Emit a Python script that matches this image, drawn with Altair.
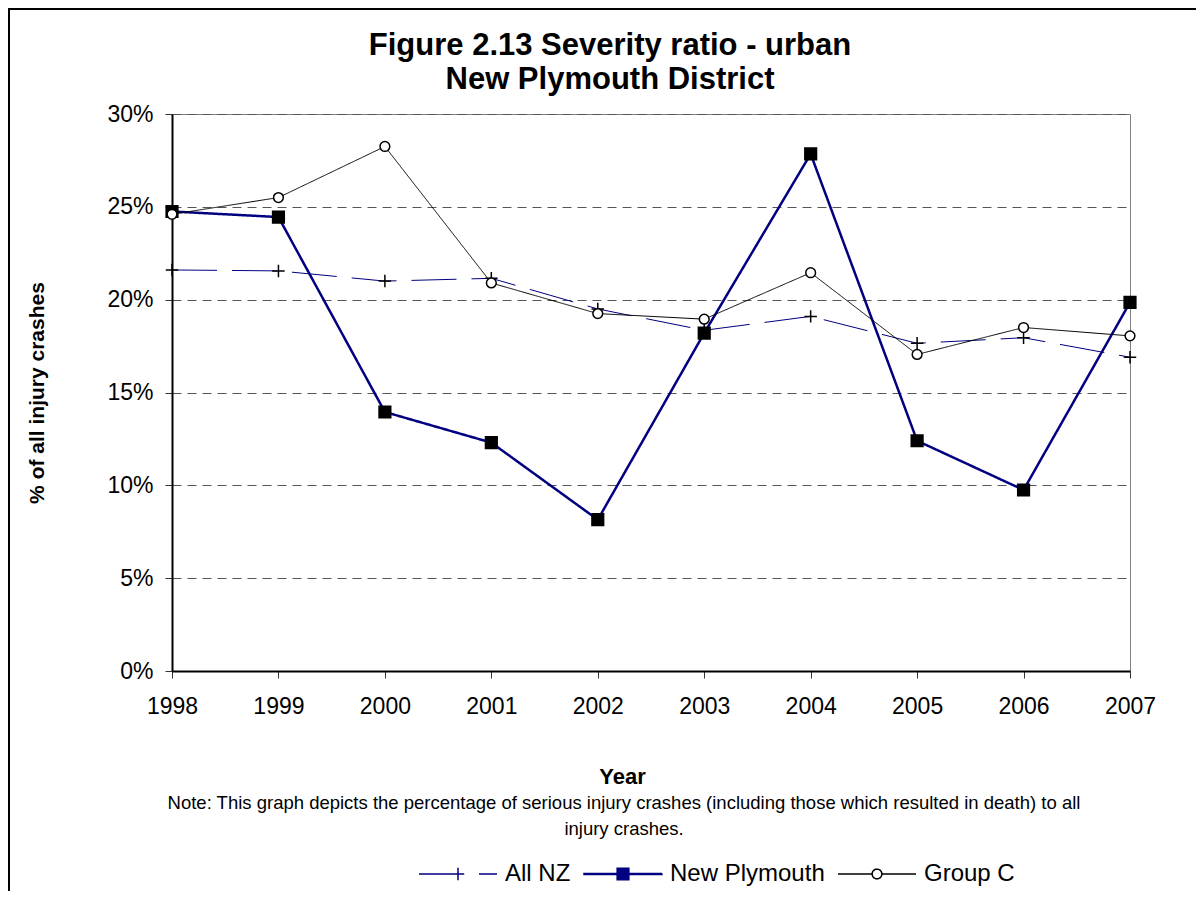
import altair as alt
import pandas as pd

# ---- data ----
years = [1998, 1999, 2000, 2001, 2002, 2003, 2004, 2005, 2006, 2007]
all_nz = [21.6, 21.55, 21.0, 21.15, 19.5, 18.35, 19.1, 17.65, 17.95, 16.9]
new_plymouth = [24.75, 24.45, 13.95, 12.3, 8.15, 18.2, 27.85, 12.4, 9.75, 19.85]
group_c = [24.6, 25.5, 28.25, 20.9, 19.25, 18.95, 21.45, 17.05, 18.5, 18.05]
series_names = ["All NZ", "New Plymouth", "Group C"]
y_ticks = [0, 0.05, 0.10, 0.15, 0.20, 0.25, 0.30]
title_text = "Figure 2.13 Severity ratio - urban\nNew Plymouth District"
note_text = ("Note: This graph depicts the percentage of serious injury crashes "
             "(including those which resulted in death) to all\ninjury crashes.")

rows = []
for name, vals in zip(series_names, [all_nz, new_plymouth, group_c]):
    for yr, v in zip(years, vals):
        rows.append({"year": yr, "value": v / 100.0, "series": name})
df = pd.DataFrame(rows)
one = pd.DataFrame({"k": [0]})

FONT = "Liberation Sans"
W, H = 958, 557
PAD = {"left": 164, "top": 106, "right": 66, "bottom": 220}

# symbol paths (unit square scaled by sqrt(size)/2 = 39 px)
SYM = 6084
_s = 0.15
_hatch = "".join(f"M{-_s},{-_s + k * 0.0375:.4f}H{_s}" for k in range(9))
plus_path = "M-0.16,0H0.16M0,-0.16V0.16"
square_path = f"M{-_s},{-_s}H{_s}V{_s}H{-_s}Z" + _hatch      # solid-looking square
circle_path = "M0.125,0A0.125,0.125 0 1,1 -0.125,0A0.125,0.125 0 1,1 0.125,0Z"
# legend symbols: line + marker in one path
leg_allnz = "M-1,0H1" + plus_path
leg_np = "M-1,-0.012H1V0.012H-1Z" + square_path
leg_gc = "M-1,0H-0.125M0.125,0H1" + circle_path

legend = alt.Legend(
    title=None, orient="none", legendX=246, legendY=720, direction="horizontal",
    symbolSize=SYM, symbolStrokeWidth=1.5, symbolOpacity=1, labelFontSize=24, labelFont=FONT,
    labelColor="black", labelOffset=7, columnPadding=10, padding=0, labelLimit=400,
)

x_enc = alt.X(
    "year:Q",
    scale=alt.Scale(domain=[1998, 2007], nice=False, zero=False),
    axis=alt.Axis(
        values=years, format="d", grid=False, labelFlush=False,
        title="Year", titleFont=FONT, titleFontSize=22, titleFontWeight="bold",
        titleColor="black", titleX=450, titleY=112, titleBaseline="alphabetic",
        titleAlign="center",
        labelFont=FONT, labelFontSize=23, labelColor="black", labelPadding=17,
        tickSize=7, tickColor="#333333", domainColor="black", domainWidth=2,
    ),
)
y_enc = alt.Y(
    "value:Q",
    scale=alt.Scale(domain=[0, 0.30], nice=False),
    axis=alt.Axis(
        values=y_ticks, format=".0%", grid=True, gridDash=[9, 6], gridColor="#555555",
        gridWidth=1, title="% of all injury crashes", titleFont=FONT, titleFontSize=21,
        titleFontWeight="bold", titleColor="black", titleAngle=270, titleX=-135,
        titleY=278.5, titleAlign="center", titleBaseline="middle",
        labelFont=FONT, labelFontSize=23, labelColor="black", labelPadding=12,
        tickSize=7, tickColor="#333333", domainColor="black", domainWidth=2,
    ),
)

lines = alt.Chart(df).mark_line().encode(
    x=x_enc,
    y=y_enc,
    color=alt.Color("series:N", scale=alt.Scale(domain=series_names,
                    range=["#000080", "#000080", "#000000"]), legend=None),
    strokeDash=alt.StrokeDash("series:N", scale=alt.Scale(domain=series_names,
                    range=[[45, 15], [1, 0], [1, 0]]), legend=None),
    strokeWidth=alt.StrokeWidth("series:N", scale=alt.Scale(type="ordinal", domain=series_names,
                    range=[1, 2.5, 1]), legend=None),
    detail="series:N",
)

markers = alt.Chart(df).mark_point(
    size=SYM, filled=True, fill="white", stroke="black", opacity=1, strokeWidth=1.5
).encode(
    x="year:Q",
    y="value:Q",
    shape=alt.Shape("series:N", scale=alt.Scale(domain=series_names,
                    range=[plus_path, square_path, circle_path]), legend=None),
)

# legend carrier: no rows drawn, only its scales feed the legend
legend_layer = alt.Chart(df).transform_filter("datum.year < 0").mark_point(
    size=SYM, filled=False, opacity=1, strokeWidth=1.5
).encode(
    x="year:Q",
    y="value:Q",
    color=alt.Color("series:N", scale=alt.Scale(domain=series_names,
                    range=["#000080", "#000080", "#000000"]), legend=legend),
    shape=alt.Shape("series:N", scale=alt.Scale(domain=series_names,
                    range=[leg_allnz, leg_np, leg_gc]), legend=legend),
    strokeDash=alt.StrokeDash("series:N", scale=alt.Scale(domain=series_names,
                    range=[[45, 15], [1, 0], [1, 0]]), legend=legend),
)

title = alt.Chart(one).mark_text(
    align="center", baseline="alphabetic", fontSize=31, font=FONT, fontWeight="bold",
    color="black", lineBreak="\n", lineHeight=34,
).encode(x=alt.value(438), y=alt.value(-59), text=alt.value(title_text))

note = alt.Chart(one).mark_text(
    align="center", baseline="alphabetic", fontSize=18.5, font=FONT, color="black",
    lineBreak="\n", lineHeight=26,
).encode(x=alt.value(452), y=alt.value(695), text=alt.value(note_text))

frame_left = alt.Chart(one).mark_rule(color="black", strokeWidth=2).encode(
    x=alt.value(-163), y=alt.value(-106), y2=alt.value(H + PAD["bottom"]))
frame_top = alt.Chart(one).mark_rule(color="black", strokeWidth=2).encode(
    x=alt.value(-164), x2=alt.value(W + PAD["right"]), y=alt.value(-105))

chart = alt.layer(lines, markers, legend_layer, title, note, frame_left, frame_top).resolve_scale(
    shape="independent", strokeDash="independent", color="independent"
).properties(
    width=W, height=H,
    padding=PAD,
    autosize=alt.AutoSizeParams(type="none"),
    background="white",
).configure_view(stroke="#808080", strokeWidth=1).configure_axis(
    labelFont=FONT, titleFont=FONT
)

chart.save("out.html", embed_options={"renderer": "svg", "actions": False})
